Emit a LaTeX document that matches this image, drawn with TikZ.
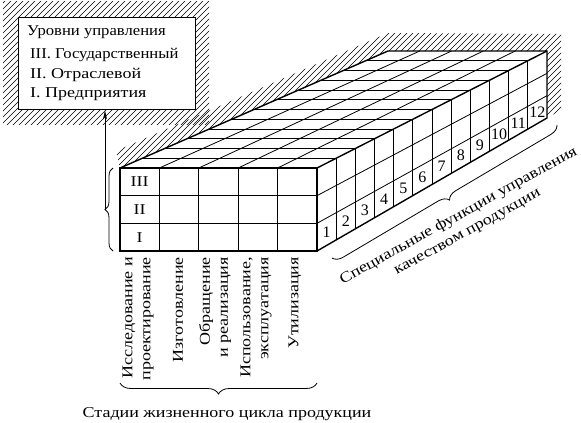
\documentclass[tikz,border=0pt]{standalone}
\usepackage{fontspec}
\setmainfont{Liberation Serif}[FakeStretch=1.2]
\newfontfamily\numfont{Liberation Serif}
\newfontfamily\boxnarrow{Liberation Serif}[FakeStretch=1.11]
\usetikzlibrary{calc,decorations.pathreplacing,arrows.meta}
\begin{document}
\begin{tikzpicture}[x=1pt,y=-1pt,
  txt/.style={font=\fontsize{15}{18}\selectfont, inner sep=0pt},
  narrowtxt/.style={font=\boxnarrow\fontsize{15}{18}\selectfont, inner sep=0pt},
  numtxt/.style={font=\numfont\fontsize{16}{16}\selectfont, inner sep=0pt},
  hatchline/.style={line width=0.6pt},
  gridline/.style={line width=0.8pt},
  edgeline/.style={line width=1.4pt, line join=miter},
  bracestyle/.style={decorate, decoration={brace, amplitude=#1}, line width=0.8pt},
]
\useasboundingbox (0,0) rectangle (581,423);

% cube corners
\coordinate (FTL) at (120,168);
\coordinate (FTR) at (317,168);
\coordinate (FBL) at (120,251);
\coordinate (FBR) at (317,251);
\coordinate (BTL) at (388,51);
\coordinate (BTR) at (547,51);
\coordinate (BBR) at (547,118);

% hatching round the legend box
\begin{scope}
  \clip (3,1) rectangle (209,124);
  \foreach \s in {-130,-124,...,215} \draw[hatchline] (\s,130) -- ++(130,-130);
\end{scope}

% hatching round the block
\begin{scope}
  \clip (FTL) -- (BTL) -- (BTR) -- (BBR) -- (561,110) -- (561,34) -- (388,33) -- (116,151) -- cycle;
  \foreach \s in {-70,-64,...,570} \draw[hatchline] (\s,180) -- ++(180,-180);
\end{scope}

% legend box
\node[draw, line width=1.4pt, fill=white, anchor=north west,
      minimum width=177pt, minimum height=92pt, inner sep=0pt] (lvbox) at (18,17) {};
\node[narrowtxt, anchor=base west] (lvt) at (27,35) {Уровни управления};
\node[narrowtxt, anchor=base west] (lv3) at (30,58) {III. Государственный};
\node[txt, anchor=base west] (lv2) at (30,78) {II. Отраслевой};
\node[txt, anchor=base west] (lv1) at (30,97) {I. Предприятия};

% front grid
\foreach \i in {1,...,4} \draw[gridline] ($(FTL)!{\i/5}!(FTR)$) -- ($(FBL)!{\i/5}!(FBR)$);
\foreach \j in {1,2} \draw[gridline] ($(FTL)!{\j/3}!(FBL)$) -- ($(FTR)!{\j/3}!(FBR)$);
% top grid
\foreach \i in {1,...,4} \draw[gridline] ($(FTL)!{\i/5}!(FTR)$) -- ($(BTL)!{\i/5}!(BTR)$);
\foreach \k in {1,...,11} \draw[gridline] ($(FTL)!{\k/12}!(BTL)$) -- ($(FTR)!{\k/12}!(BTR)$);
% right grid
\foreach \k in {1,...,11} \draw[gridline] ($(FTR)!{\k/12}!(BTR)$) -- ($(FBR)!{\k/12}!(BBR)$);
\foreach \j in {1,2} \draw[gridline] ($(FTR)!{\j/3}!(FBR)$) -- ($(BTR)!{\j/3}!(BBR)$);

% outline
\draw[edgeline] (FTL) rectangle (FBR);
\draw[edgeline] (FTL) -- (BTL) -- (BTR) -- (BBR) -- (FBR);
\draw[edgeline] (FTR) -- (BTR);

% level labels on front
\node[txt] (r3) at (139.7,182) {III};
\node[txt] (r2) at (139.7,209.5) {II};
\node[txt] (r1) at (139.7,237.2) {I};

% function numbers
\coordinate (RF) at ($(FTR)!{5/6}!(FBR)$);
\coordinate (RB) at ($(BTR)!{5/6}!(BBR)$);
\foreach \k in {1,...,12} \node[numtxt] (n\k) at ($(RF)!{(\k-0.5)/12}!(RB)$) {\k};

% stage labels
\node[txt, rotate=90, anchor=east, align=right] (c1) at (138,257) {Исследование и\\проектирование};
\node[txt, rotate=90, anchor=east, align=right] (c2) at (178,257) {Изготовление};
\node[txt, rotate=90, anchor=east, align=right] (c3) at (215,257) {Обращение\\и реализация};
\node[txt, rotate=90, anchor=east, align=right] (c4) at (256,257) {Использование,\\эксплуатация};
\node[txt, rotate=90, anchor=east, align=right] (c5) at (295,257) {Утилизация};

% bottom brace and label
\coordinate (bbR) at (317,383);
\coordinate (bbL) at (120,383);
\draw[bracestyle=11pt] (bbR) -- (bbL);
\node[txt, anchor=base] (stlabel) at (227,417) {Стадии жизненного цикла продукции};

% left brace and arrow
\coordinate (lbB) at (113,251);
\coordinate (lbT) at (113,168);
\draw[bracestyle=8pt] (lbB) -- (lbT);
\coordinate (lbtip) at (105,209.5);
\draw[line width=0.8pt, -{Stealth[length=9pt,width=4pt]}] (lbtip) -- (lbtip |- lvbox.south);

% right brace and label
\coordinate (rbT) at (557,125);
\coordinate (rbB) at (332,258);
\draw[bracestyle=10pt] (rbT) -- (rbB);
\node[txt, rotate=29, align=center] (sflabel) at (463,224) {Специальные функции управления\\качеством продукции};

\end{tikzpicture}
\end{document}
